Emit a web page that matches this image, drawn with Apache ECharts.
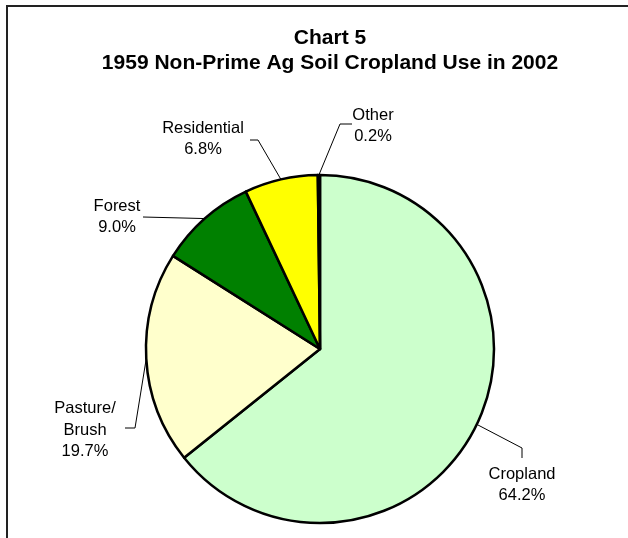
<!DOCTYPE html>
<html>
<head>
<meta charset="utf-8">
<script src="https://cdn.jsdelivr.net/npm/echarts@6/dist/echarts.min.js"></script>
<style>
  html, body { margin: 0; padding: 0; background: #fff; }
  #chart { width: 628px; height: 538px; }
</style>
</head>
<body>
<div id="chart"></div>
<script>
const categories = ['Cropland', 'Pasture/\nBrush', 'Forest', 'Residential', 'Other']
const shares = [64.2, 19.7, 9.0, 6.8, 0.2]
const colors = ['#CCFFCC', '#FFFFCC', '#008000', '#FFFF00', '#000000']

// where each label sits and where its leader bends (pixels)
const labelPos = [
  { x: 522, y: 485, bend: [[522, 448], [522, 458]] },
  { x: 85, y: 430, bend: [[135, 428], [125, 428]] },
  { x: 117, y: 217, bend: [[143, 217], [143, 217]] },
  { x: 203, y: 139, bend: [[258, 140], [250, 140]] },
  { x: 373, y: 126, bend: [[340, 124], [352, 124]] }
]

let chart = echarts.init(document.getElementById('chart'))
let option = {
  animation: false,
  textStyle: { fontFamily: 'Liberation Sans, Arial, sans-serif' },
  title: {
    text: 'Chart 5\n1959 Non-Prime Ag Soil Cropland Use in 2002',
    left: 325,
    top: 21,
    textAlign: 'center',
    textStyle: {
      fontSize: 21,
      fontWeight: 'bold',
      color: '#000',
      lineHeight: 25,
      fontFamily: 'Liberation Sans, Arial, sans-serif'
    }
  },
  graphic: [{
    type: 'rect',
    shape: { x: 7, y: 6, width: 700, height: 600 },
    style: { fill: 'none', stroke: '#222', lineWidth: 2 },
    silent: true
  }],
  series: [{
    type: 'pie',
    center: [320, 349],
    radius: 174,
    startAngle: 90,
    clockwise: true,
    avoidLabelOverlap: false,
    data: categories.map((c, i) => ({
      name: c,
      value: shares[i],
      itemStyle: { color: colors[i] }
    })),
    itemStyle: { borderColor: '#000', borderWidth: 2.5 },
    label: {
      show: true,
      formatter: p => p.name + '\n' + p.value.toFixed(1) + '%',
      fontSize: 16.5,
      lineHeight: 21.5,
      color: '#000',
      align: 'center',
      fontFamily: 'Liberation Sans, Arial, sans-serif'
    },
    labelLine: {
      show: true,
      lineStyle: { color: '#000', width: 1 }
    },
    labelLayout: function (params) {
      const lp = labelPos[params.dataIndex]
      const start = params.labelLinePoints ? params.labelLinePoints[0] : lp.bend[0]
      return {
        x: lp.x,
        y: lp.y,
        align: 'center',
        verticalAlign: 'middle',
        labelLinePoints: [start, lp.bend[0], lp.bend[1]]
      }
    }
  }]
}
option && chart.setOption(option)
</script>
</body>
</html>
